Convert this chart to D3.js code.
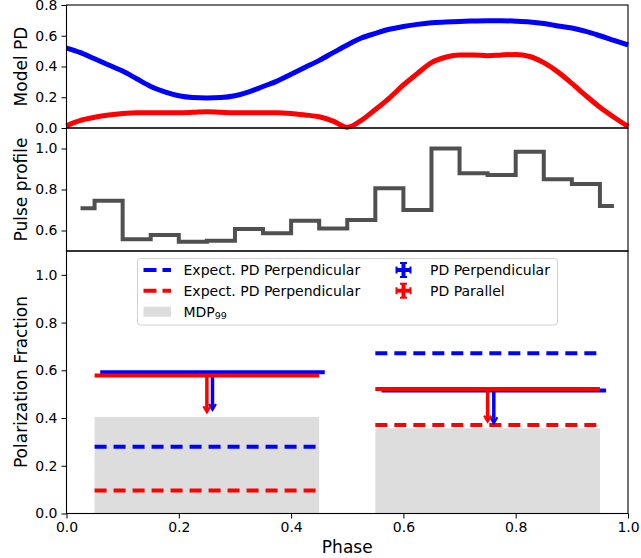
<!DOCTYPE html>
<html>
<head>
<meta charset="utf-8">
<script src="https://cdn.jsdelivr.net/npm/d3@7"></script>
<style>
  body { margin: 0; background: #fff; }
  svg { display: block; font-family: "DejaVu Sans", sans-serif; }
</style>
</head>
<body>
<script>
// model PD curves, sampled every 0.025 in phase
const modelPhase = d3.range(41).map(i => i * 0.025);
const modelPerp = [0.52, 0.49, 0.45, 0.41, 0.37, 0.32, 0.27, 0.235, 0.21, 0.198,
  0.195, 0.198, 0.21, 0.235, 0.27, 0.305, 0.35, 0.395, 0.44, 0.49,
  0.54, 0.585, 0.615, 0.642, 0.66, 0.674, 0.684, 0.689, 0.693, 0.696,
  0.698, 0.698, 0.695, 0.69, 0.68, 0.664, 0.65, 0.628, 0.60, 0.57, 0.54];
const modelPar = [0.015, 0.05, 0.07, 0.085, 0.095, 0.10, 0.10, 0.10, 0.10, 0.102,
  0.105, 0.102, 0.10, 0.10, 0.10, 0.10, 0.095, 0.085, 0.073, 0.045,
  0.005, 0.05, 0.12, 0.195, 0.28, 0.355, 0.425, 0.46, 0.475, 0.475,
  0.47, 0.475, 0.478, 0.465, 0.425, 0.365, 0.29, 0.21, 0.135, 0.07, 0.01];

// pulse profile, 20 bins
const pulsePhase = d3.range(20).map(i => 0.025 + i * 0.05);
const pulse = [0.708, 0.745, 0.557, 0.578, 0.545, 0.55, 0.607, 0.586, 0.648, 0.61,
  0.651, 0.806, 0.70, 1.0, 0.879, 0.871, 0.984, 0.85, 0.827, 0.72];

// polarization per phase interval
const binLo = [0.05, 0.55];
const binHi = [0.45, 0.95];
const mdp99 = [0.405, 0.357];
const expPerp = [0.28, 0.672];
const expPar = [0.096, 0.371];
const perpX = [0.26, 0.761], perpY = [0.592, 0.515], perpLim = [0.158, 0.137];
const parX = [0.25, 0.75], parY = [0.578, 0.522], parLim = [0.154, 0.137];
const xErr = 0.2;

const blue = "#0000ff", red = "#ff0000", grey = "#dddddd";

const svg = d3.select("body").append("svg").attr("width", 641).attr("height", 558);

const x = d3.scaleLinear([0, 1], [66.5, 628]);
const yTop = d3.scaleLinear([0, 0.8], [128, 5]);
const yMid = d3.scaleLinear([0.5, 1.1], [251, 128]);
const yBot = d3.scaleLinear([0, 1.1], [513.5, 251]);

function styleAxis(g) {
  g.attr("font-size", 14).attr("font-family", "DejaVu Sans");
  g.select(".domain").remove();
  g.selectAll("line").attr("stroke", "#000").attr("stroke-width", 1);
  g.selectAll("text").attr("fill", "#000");
}

function yAxis(scale, ticks) {
  svg.append("g")
      .attr("transform", `translate(${x(0)},0)`)
      .call(d3.axisLeft(scale).tickValues(ticks).tickFormat(d3.format(".1f")).tickSize(5).tickPadding(4))
      .call(styleAxis);
}

// ---- top panel
const line = (xs, ys, sy, curve) => d3.line().x((d, i) => x(xs[i])).y(d => sy(d)).curve(curve || d3.curveLinear)(ys);
svg.append("path").attr("d", line(modelPhase, modelPerp, yTop, d3.curveMonotoneX))
  .attr("fill", "none").attr("stroke", blue).attr("stroke-width", 5);
svg.append("path").attr("d", line(modelPhase, modelPar, yTop, d3.curveMonotoneX))
  .attr("fill", "none").attr("stroke", red).attr("stroke-width", 5);

// ---- middle panel
svg.append("path").attr("d", line(pulsePhase, pulse, yMid, d3.curveStep))
  .attr("fill", "none").attr("stroke", "#505050").attr("stroke-width", 4);

// ---- bottom panel
const bins = [0, 1];
svg.append("g").selectAll("rect").data(bins).join("rect")
  .attr("x", i => x(binLo[i])).attr("width", i => x(binHi[i]) - x(binLo[i]))
  .attr("y", i => yBot(mdp99[i])).attr("height", i => yBot(0) - yBot(mdp99[i]))
  .attr("fill", grey);

[[expPerp, blue], [expPar, red]].forEach(([vals, col]) => {
  svg.append("g").selectAll("line").data(bins).join("line")
    .attr("x1", i => x(binLo[i])).attr("x2", i => x(binHi[i]))
    .attr("y1", i => yBot(vals[i])).attr("y2", i => yBot(vals[i]))
    .attr("stroke", col).attr("stroke-width", 4).attr("stroke-dasharray", "12,7");
});

function arrowHead(g, cx, cy, col) {
  g.append("path")
    .attr("d", `M${cx - 3.5},${cy - 6}L${cx},${cy}L${cx + 3.5},${cy - 6}`)
    .attr("fill", "none").attr("stroke", col).attr("stroke-width", 2.2);
}

[[perpX, perpY, perpLim, blue], [parX, parY, parLim, red]].forEach(([xs, ys, lims, col]) => {
  const g = svg.append("g");
  bins.forEach(i => {
    g.append("line")
      .attr("x1", x(xs[i] - xErr)).attr("x2", x(xs[i] + xErr))
      .attr("y1", yBot(ys[i])).attr("y2", yBot(ys[i]))
      .attr("stroke", col).attr("stroke-width", 4);
    g.append("line")
      .attr("x1", x(xs[i])).attr("x2", x(xs[i]))
      .attr("y1", yBot(ys[i])).attr("y2", yBot(ys[i] - lims[i]) - 1)
      .attr("stroke", col).attr("stroke-width", 3.5);
    arrowHead(g, x(xs[i]), yBot(ys[i] - lims[i]), col);
  });
});

// ---- frames + axes
[[5, 128], [128, 251], [251, 513.5]].forEach(([t, b]) => {
  svg.append("rect").attr("x", x(0)).attr("y", t).attr("width", x(1) - x(0)).attr("height", b - t)
    .attr("fill", "none").attr("stroke", "#000").attr("stroke-width", 1.1);
});

yAxis(yTop, [0, 0.2, 0.4, 0.6, 0.8]);
yAxis(yMid, [0.6, 0.8, 1.0]);
yAxis(yBot, [0, 0.2, 0.4, 0.6, 0.8, 1.0]);

svg.append("g")
    .attr("transform", `translate(0,${yBot(0)})`)
    .call(d3.axisBottom(x).tickValues([0, 0.2, 0.4, 0.6, 0.8, 1.0]).tickFormat(d3.format(".1f")).tickSize(5).tickPadding(4))
    .call(styleAxis);

// axis labels
const ylabs = [["Model PD", 66.5], ["Pulse profile", 189.5], ["Polarization Fraction", 382]];
ylabs.forEach(([t, cy]) => {
  svg.append("text").attr("transform", `translate(26.5,${cy}) rotate(-90)`)
    .attr("text-anchor", "middle").attr("font-size", 17).text(t);
});
svg.append("text").attr("x", (x(0) + x(1)) / 2).attr("y", 553)
  .attr("text-anchor", "middle").attr("font-size", 17).text("Phase");

// ---- legend
const lg = svg.append("g").attr("font-size", 14);
lg.append("rect").attr("x", 137.5).attr("y", 258.5).attr("width", 420).attr("height", 66.5).attr("rx", 3)
  .attr("fill", "#fff").attr("fill-opacity", 0.8).attr("stroke", "#d0d0d0").attr("stroke-width", 1);
const rows = [270, 290.7, 311.7];
[[blue, 0], [red, 1]].forEach(([col, r]) => {
  lg.append("line").attr("x1", 143.5).attr("x2", 171).attr("y1", rows[r]).attr("y2", rows[r])
    .attr("stroke", col).attr("stroke-width", 4).attr("stroke-dasharray", "13,6");
  lg.append("text").attr("x", 183.5).attr("y", rows[r]).attr("dy", "0.36em").text("Expect. PD Perpendicular");
});
lg.append("rect").attr("x", 143.5).attr("y", rows[2] - 5).attr("width", 27.5).attr("height", 10).attr("fill", grey);
const mdpT = lg.append("text").attr("x", 183.5).attr("y", rows[2]).attr("dy", "0.36em").text("MDP");
mdpT.append("tspan").attr("font-size", 9.5).attr("dy", 2).text("99");

[[blue, 0, "PD Perpendicular"], [red, 1, "PD Parallel"]].forEach(([col, r, t]) => {
  const cx = 403.5, cy = rows[r];
  lg.append("line").attr("x1", cx - 7).attr("x2", cx + 7).attr("y1", cy).attr("y2", cy).attr("stroke", col).attr("stroke-width", 4);
  lg.append("line").attr("x1", cx).attr("x2", cx).attr("y1", cy - 7).attr("y2", cy + 7).attr("stroke", col).attr("stroke-width", 4);
  lg.append("line").attr("x1", cx - 7).attr("x2", cx - 7).attr("y1", cy - 3.5).attr("y2", cy + 3.5).attr("stroke", col).attr("stroke-width", 2);
  lg.append("line").attr("x1", cx + 7).attr("x2", cx + 7).attr("y1", cy - 3.5).attr("y2", cy + 3.5).attr("stroke", col).attr("stroke-width", 2);
  lg.append("line").attr("x1", cx - 3.5).attr("x2", cx + 3.5).attr("y1", cy - 7).attr("y2", cy - 7).attr("stroke", col).attr("stroke-width", 2);
  lg.append("line").attr("x1", cx - 3.5).attr("x2", cx + 3.5).attr("y1", cy + 7).attr("y2", cy + 7).attr("stroke", col).attr("stroke-width", 2);
  lg.append("text").attr("x", 430).attr("y", cy).attr("dy", "0.36em").text(t);
});
</script>
</body>
</html>
